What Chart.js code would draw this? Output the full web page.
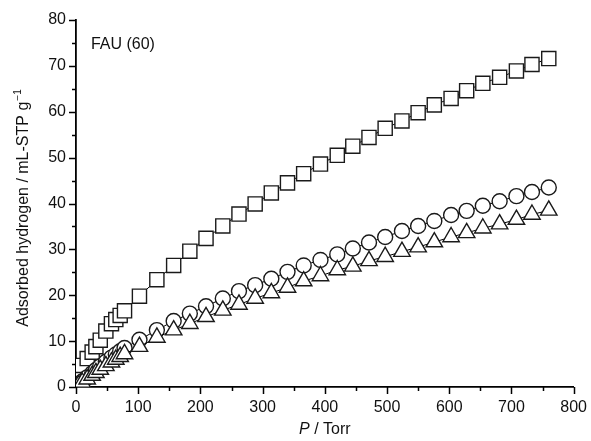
<!DOCTYPE html>
<html>
<head>
<meta charset="utf-8">
<script src="https://cdn.jsdelivr.net/npm/chart.js@4/dist/chart.umd.min.js"></script>
<style>
  html, body { margin: 0; padding: 0; background: #fff; }
  #wrap { width: 591px; height: 441px; position: relative; }
</style>
</head>
<body>
<div id="wrap"><canvas id="c"></canvas></div>
<script>
// Hydrogen adsorption isotherms, FAU (60)
const pressure = [1, 4, 10, 18, 26, 32, 39, 48, 57, 64, 71, 78,
  102, 130, 157, 183, 209, 236, 262, 288, 314, 340, 366, 393,
  420, 445, 471, 497, 524, 550, 576, 603, 628, 654, 681, 708, 733, 760];

const squareSeries = [1.2, 3.3, 4.7, 6.2, 7.6, 8.8, 10.2, 12.2, 13.8, 14.7, 15.6, 16.6,
  19.8, 23.4, 26.5, 29.6, 32.4, 35.1, 37.7, 39.9, 42.3, 44.5, 46.5, 48.6,
  50.5, 52.5, 54.4, 56.4, 58.0, 59.8, 61.5, 62.9, 64.6, 66.2, 67.5, 68.9, 70.3, 71.6];

const circleSeries = [0.1, 0.5, 1.2, 2.1, 3.0, 3.7, 4.5, 5.5, 6.4, 7.1, 7.8, 8.5,
  10.3, 12.4, 14.4, 16.0, 17.6, 19.3, 20.9, 22.2, 23.6, 25.1, 26.5, 27.7,
  28.9, 30.2, 31.5, 32.7, 34.0, 35.1, 36.2, 37.5, 38.4, 39.5, 40.5, 41.6, 42.5, 43.5];

const triangleSeries = [0.1, 0.4, 1.0, 1.7, 2.5, 3.1, 3.8, 4.6, 5.4, 6.0, 6.6, 7.2,
  8.8, 10.8, 12.4, 13.8, 15.3, 16.7, 18.0, 19.3, 20.5, 21.7, 23.1, 24.2,
  25.5, 26.3, 27.5, 28.4, 29.5, 30.5, 31.6, 32.7, 33.6, 34.6, 35.5, 36.5, 37.6, 38.5];

const xTickValues = [0, 100, 200, 300, 400, 500, 600, 700, 800];
const yTickValues = [0, 10, 20, 30, 40, 50, 60, 70, 80];

const sampleLabel = 'FAU (60)';
const sampleLabelAt = { x: 24, y: 73.6 };
const xTitleItalic = 'P';
const xTitleRest = ' / Torr';
const yTitleMain = 'Adsorbed hydrogen / mL-STP g';
const yTitleSup = '\u22121';

const FONT = '"Liberation Sans", Arial, sans-serif';

function toPoints(ys) { return pressure.map((p, i) => ({ x: p, y: ys[i] })); }

function seriesStyle(style, radius, order) {
  return {
    pointStyle: style,
    pointRadius: radius,
    pointHoverRadius: radius,
    pointBackgroundColor: '#fff',
    pointBorderColor: '#1a1a1a',
    pointBorderWidth: 1.4,
    borderColor: '#000',
    borderWidth: 1,
    showLine: true,
    tension: 0,
    order: order
  };
}

// Axis tick marks (major + minor, outward) and text decorations
const decorations = {
  id: 'decorations',
  afterDraw(chart) {
    const ctx = chart.ctx;
    const xs = chart.scales.x, ys = chart.scales.y;
    const area = chart.chartArea;
    ctx.save();
    ctx.strokeStyle = '#000';
    ctx.lineWidth = 1.5;
    ctx.beginPath();
    for (let v = 0; v <= 800; v += 50) {
      const px = Math.round(xs.getPixelForValue(v)) + 0.5;
      const len = v % 100 === 0 ? 7 : 4;
      ctx.moveTo(px, area.bottom);
      ctx.lineTo(px, area.bottom + len);
    }
    for (let v = 0; v <= 80; v += 5) {
      const py = Math.round(ys.getPixelForValue(v)) + 0.5;
      const len = v % 10 === 0 ? 7 : 4;
      ctx.moveTo(area.left, py);
      ctx.lineTo(area.left - len, py);
    }
    ctx.stroke();

    ctx.fillStyle = '#111';
    // sample label
    ctx.font = '16px ' + FONT;
    ctx.textAlign = 'left';
    ctx.textBaseline = 'alphabetic';
    ctx.fillText(sampleLabel, xs.getPixelForValue(sampleLabelAt.x), ys.getPixelForValue(sampleLabelAt.y));

    // x title: italic P followed by unit
    const cx = (area.left + area.right) / 2;
    ctx.font = 'italic 16px ' + FONT;
    const wP = ctx.measureText(xTitleItalic).width;
    ctx.font = '16px ' + FONT;
    const wR = ctx.measureText(xTitleRest).width;
    let sx = cx - (wP + wR) / 2;
    ctx.font = 'italic 16px ' + FONT;
    ctx.fillText(xTitleItalic, sx, 434);
    ctx.font = '16px ' + FONT;
    ctx.fillText(xTitleRest, sx + wP, 434);

    // y title, rotated, with superscript exponent
    ctx.translate(28, (area.top + area.bottom) / 2 + 5);
    ctx.rotate(-Math.PI / 2);
    ctx.font = '16px ' + FONT;
    const wM = ctx.measureText(yTitleMain).width;
    ctx.font = '10px ' + FONT;
    const wS = ctx.measureText(yTitleSup).width;
    const start = -(wM + wS) / 2;
    ctx.font = '16px ' + FONT;
    ctx.fillText(yTitleMain, start, 0);
    ctx.font = '10px ' + FONT;
    ctx.fillText(yTitleSup, start + wM + 1, -7);
    ctx.restore();
  }
};

new Chart(document.getElementById('c'), {
  type: 'scatter',
  data: {
    datasets: [
      Object.assign({ label: 'square', data: toPoints(squareSeries) }, seriesStyle('rect', 10, 3)),
      Object.assign({ label: 'circle', data: toPoints(circleSeries) }, seriesStyle('circle', 7.5, 2)),
      Object.assign({ label: 'triangle', data: toPoints(triangleSeries) }, seriesStyle('triangle', 9.5, 1))
    ]
  },
  options: {
    responsive: true,
    maintainAspectRatio: false,
    animation: false,
    layout: { padding: { top: 20, right: 15, left: 0, bottom: 0 } },
    plugins: { legend: { display: false }, tooltip: { enabled: false } },
    scales: {
      x: {
        type: 'linear',
        min: 0, max: 800,
        afterFit(s) { s.height = 54; },
        afterBuildTicks(s) { s.ticks = xTickValues.map(v => ({ value: v })); },
        grid: { drawOnChartArea: false, drawTicks: true, tickLength: 7, color: 'rgba(0,0,0,0)' },
        border: { display: true, color: '#000', width: 1.8 },
        ticks: { padding: 4, color: '#111', font: { family: FONT, size: 16 }, maxRotation: 0, autoSkip: false }
      },
      y: {
        type: 'linear',
        min: 0, max: 80,
        afterFit(s) { s.width = 76; },
        afterBuildTicks(s) { s.ticks = yTickValues.map(v => ({ value: v })); },
        grid: { drawOnChartArea: false, drawTicks: true, tickLength: 7, color: 'rgba(0,0,0,0)' },
        border: { display: true, color: '#000', width: 1.8 },
        ticks: { padding: 3, color: '#111', font: { family: FONT, size: 16 }, autoSkip: false }
      }
    }
  },
  plugins: [decorations]
});
</script>
</body>
</html>
